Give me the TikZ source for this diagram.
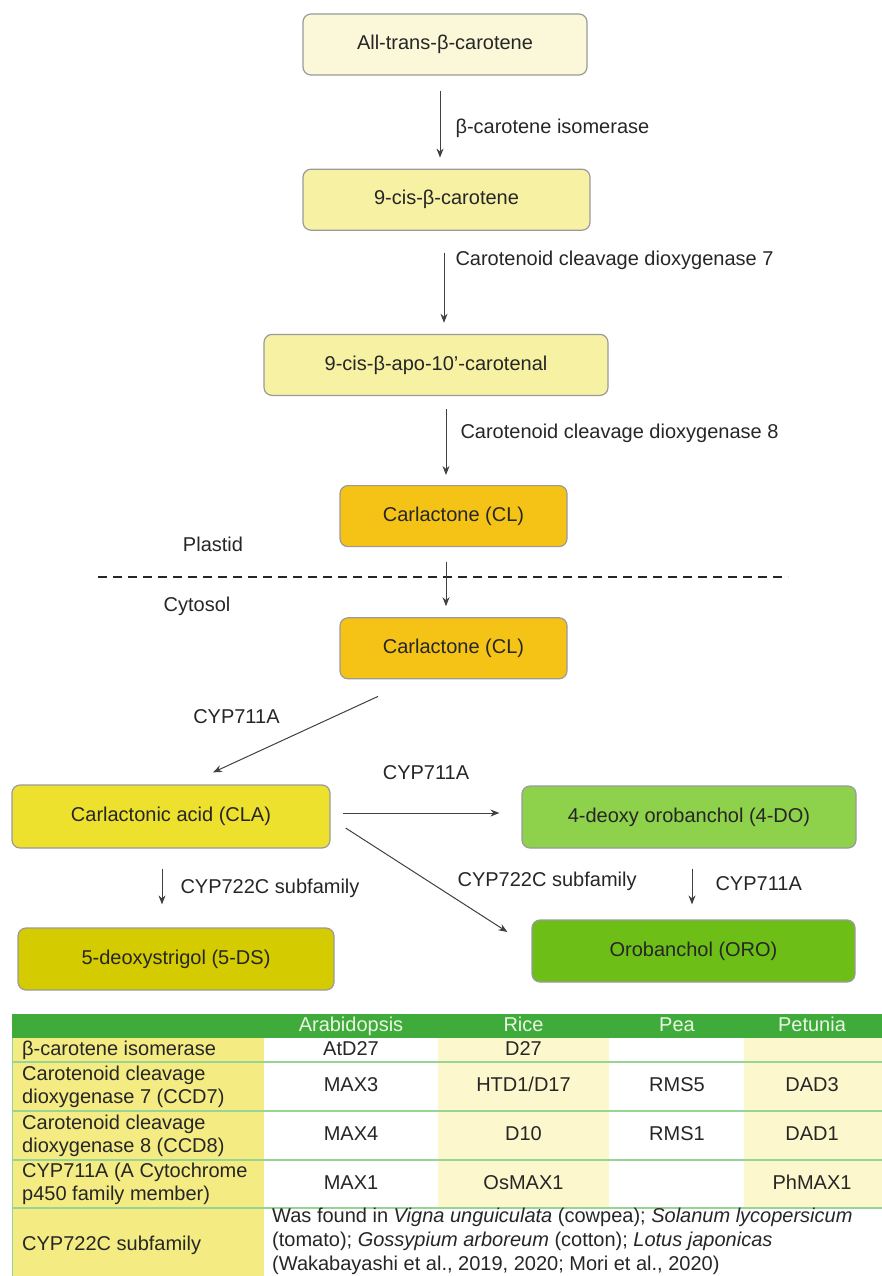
\documentclass[tikz,border=0pt]{standalone}
\usepackage{fontspec}
\setmainfont{Liberation Sans}
\usetikzlibrary{arrows.meta, positioning}
\definecolor{boxline}{HTML}{9A9A9A}
\definecolor{allfill}{HTML}{FAF8D8}
\definecolor{cisfill}{HTML}{F7F1A4}
\definecolor{clfill}{HTML}{F5C316}
\definecolor{clafill}{HTML}{EEE12E}
\definecolor{dofill}{HTML}{8DD24A}
\definecolor{dsfill}{HTML}{D4CB00}
\definecolor{orofill}{HTML}{6DBE17}
\definecolor{tabhead}{HTML}{3FAB3B}
\definecolor{headtxt}{HTML}{EAF6E4}
\definecolor{tabcol}{HTML}{F4EC82}
\definecolor{tabpale}{HTML}{FDF7CE}
\definecolor{tabgrid}{HTML}{98D493}
\tikzset{
  substr/.style={rounded corners=8pt, draw=boxline, line width=1.2pt,
                 minimum height=61pt, inner sep=0pt,
                 font=\fontsize{20}{24}\selectfont, text=black!85},
  enz/.style={inner sep=0pt, font=\fontsize{20}{24}\selectfont, text=black!85},
  arr/.style={-{Stealth[length=9pt, width=7pt]}, line width=1pt, draw=black!75},
  memb/.style={dash pattern=on 9pt off 6pt, line width=1.6pt, draw=black!85},
  cell/.style={inner sep=0pt, font=\fontsize{20}{23}\selectfont, text=black!85},
  flat/.style={cell, text height=14.5pt, text depth=4pt},
  head/.style={flat, text=headtxt},
  grid/.style={draw=tabgrid, line width=1.4pt},
}

\begin{document}
\begin{tikzpicture}[x=1pt, y=-1pt]
\useasboundingbox (0,0) rectangle (882,1276);
\clip (0,0) rectangle (882,1276);

% pathway in the plastid
\node[substr, fill=allfill, minimum width=284pt] (allt) at (445,44.5) {All-trans-β-carotene};
\node[substr, fill=cisfill, minimum width=287pt, below=93pt of allt, xshift=1.5pt] (cis)
  {9-cis-β-carotene};
\node[substr, fill=cisfill, minimum width=344pt, below=103pt of cis, xshift=-10.5pt] (apo)
  {9-cis-β-apo-10’-carotenal};
\node[substr, fill=clfill, minimum width=227pt, below=89pt of apo, xshift=17.5pt] (clp)
  {Carlactone (CL)};
\node[substr, fill=clfill, minimum width=227pt, below=70pt of clp] (clc) {Carlactone (CL)};

\coordinate (membL) at (98,577);
\coordinate (membR) at (788,577);
\draw[memb] (membL) -- (membR);
\node[enz] (plastid) at (213,544) {Plastid};
\node[enz] (cytosol) at (197,606) {Cytosol};

\draw[arr, shorten <=15pt, shorten >=11pt] ([xshift=-5pt]allt.south) -- ([xshift=-6.5pt]cis.north)
  node[enz, pos=0.57, right=15pt] (isom) {β-carotene isomerase};
\draw[arr, shorten <=22pt, shorten >=11pt] ([xshift=-2.5pt]cis.south) -- ([xshift=8pt]apo.north)
  node[enz, pos=0.29, right=11pt] (ccd7) {Carotenoid cleavage dioxygenase 7};
\draw[arr, shorten <=13pt, shorten >=10pt] ([xshift=10pt]apo.south) -- ([xshift=-7.5pt]clp.north)
  node[enz, pos=0.42, right=14pt] (ccd8) {Carotenoid cleavage dioxygenase 8};
\draw[arr, shorten <=15pt, shorten >=11pt] ([xshift=-7.5pt]clp.south) -- ([xshift=-7.5pt]clc.north);

% cytosol
\node[substr, fill=clafill, minimum width=318pt, minimum height=63pt] (cla) at (171,816.5)
  {Carlactonic acid (CLA)};
\node[substr, fill=dofill, minimum width=334pt, minimum height=62pt] (deoxo) at (689,817)
  {4-deoxy orobanchol (4-DO)};
\node[substr, fill=dsfill, minimum width=316pt, minimum height=62pt] (deoxs) at (176,959)
  {5-deoxystrigol (5-DS)};
\node[substr, fill=orofill, minimum width=323pt, minimum height=62pt] (oro) at (693.5,951)
  {Orobanchol (ORO)};

\draw[arr] ([xshift=-75.5pt,yshift=-17pt]clc.south) -- ([xshift=42pt,yshift=12pt]cla.north)
  node[enz, pos=0.26, left=55pt] (maxa) {CYP711A};
\draw[arr, shorten <=12pt, shorten >=22pt] ([yshift=3.5pt]cla.east) -- ([yshift=4pt]deoxo.west)
  node[enz, midway, above=33pt] (maxb) {CYP711A};
\draw[arr] ([xshift=15pt,yshift=-11.5pt]cla.east) -- ([xshift=-24pt,yshift=19pt]oro.west)
  node[enz, pos=0.51, right=29pt] (cypa) {CYP722C subfamily};
\draw[arr, shorten <=20pt, shorten >=23pt] ([xshift=-9pt]cla.south) -- ([xshift=-14pt]deoxs.north)
  node[enz, midway, right=18pt] (cypb) {CYP722C subfamily};
\draw[arr, shorten <=20pt, shorten >=15pt] ([xshift=3pt]deoxo.south) -- ([xshift=-1.5pt]oro.north)
  node[enz, midway, right=23pt] (maxc) {CYP711A};

% table of genes
\fill[tabcol] (12,1038) rectangle (264,1276);
\fill[tabpale] (438,1038) rectangle (609,1208);
\fill[tabpale] (744,1038) rectangle (882,1208);
\fill[tabhead] (12,1014) rectangle (882,1038);
\foreach \y in {1062,1111,1160,1208}
  \draw[grid] (12,\y) -- (882,\y);
\draw[grid, line width=1pt] (12,1038) -- (12,1276);

\foreach \name/\x/\txt in {arab/351/Arabidopsis, rice/523.5/Rice, pea/677/Pea, petu/812/Petunia}
  \node[head] (\name) at (\x,1026) {\txt};

\node[flat, anchor=west] (rowa) at (22,1050) {β-carotene isomerase};
\node[cell, anchor=west, align=left] (rowb) at (22,1086.5) {Carotenoid cleavage\\dioxygenase 7 (CCD7)};
\node[cell, anchor=west, align=left] (rowc) at (22,1135.5) {Carotenoid cleavage\\dioxygenase 8 (CCD8)};
\node[cell, anchor=west, align=left] (rowd) at (22,1184) {CYP711A (A Cytochrome\\p450 family member)};
\node[flat, anchor=west] (rowe) at (22,1245) {CYP722C subfamily};

\node[flat] (arab1) at (351,1050) {AtD27};
\node[flat] (rice1) at (523.5,1050) {D27};
\node[flat] (arab2) at (351,1086.5) {MAX3};
\node[flat] (rice2) at (523.5,1086.5) {HTD1/D17};
\node[flat] (pea2) at (677,1086.5) {RMS5};
\node[flat] (petu2) at (812,1086.5) {DAD3};
\node[flat] (arab3) at (351,1135.5) {MAX4};
\node[flat] (rice3) at (523.5,1135.5) {D10};
\node[flat] (pea3) at (677,1135.5) {RMS1};
\node[flat] (petu3) at (812,1135.5) {DAD1};
\node[flat] (arab4) at (351,1184) {MAX1};
\node[flat] (rice4) at (523.5,1184) {OsMAX1};
\node[flat] (petu4) at (812,1184) {PhMAX1};

\node[cell, anchor=west, align=left, font=\fontsize{20}{24}\selectfont] (found) at (272,1241)
  {Was found in \textit{Vigna unguiculata} (cowpea); \textit{Solanum lycopersicum}\\
   (tomato); \textit{Gossypium arboreum} (cotton); \textit{Lotus japonicas}\\
   (Wakabayashi et al., 2019, 2020; Mori et al., 2020)};
\end{tikzpicture}
\end{document}
